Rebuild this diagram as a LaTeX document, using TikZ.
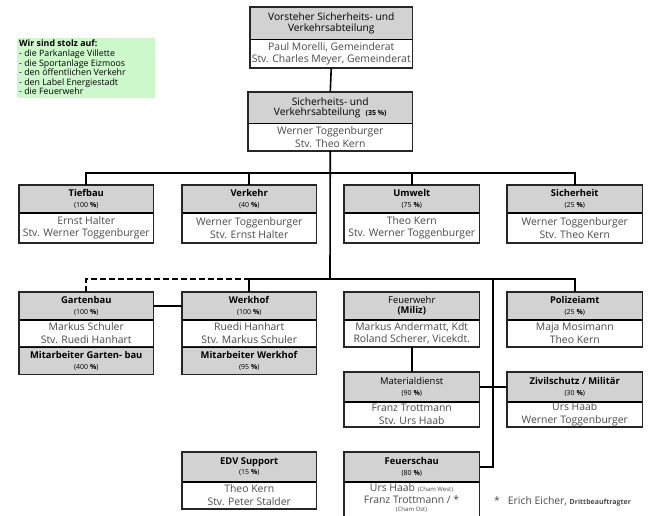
\documentclass[tikz,border=0pt]{standalone}
\usepackage{fontspec}
\setmainfont{Open Sans}
\definecolor{hdrgray}{HTML}{D2D2D2}
\definecolor{namegray}{HTML}{4A4A4A}
\definecolor{prideg}{HTML}{CCF8CC}
\tikzset{
  hdr/.style={draw=black, line width=0.5pt, fill=hdrgray, inner sep=0pt, align=center,
    font=\fontsize{9.4}{10.6}\selectfont},
  bdy/.style={draw=black, line width=0.5pt, fill=white, inner sep=0pt, align=center,
    text=namegray, font=\fontsize{10.4}{12.8}\selectfont},
  frame/.style={draw=black!85, line width=1.3pt},
  conn/.style={draw=black, line width=1.6pt},
}
\newcommand\pct[1]{{\fontsize{7}{7.5}\selectfont(#1 \textbf{\%})}}
\newcommand\bigh{\fontsize{10.2}{12}\selectfont}
% name, x, y(top), width, header h, body h, header text, body text
\newcommand\obox[8]{%
  \node[hdr, anchor=north west, minimum width=#4, minimum height=#5] (#1) at (#2,#3) {#7};
  \node[bdy, anchor=north, minimum width=#4, minimum height=#6] (#1b) at (#1.south) {#8};
  \draw[frame] (#1.north west) rectangle (#1b.south east);
}
\begin{document}
\begin{tikzpicture}[x=1pt, y=-1pt]
\useasboundingbox (0,0) rectangle (651,516);

% pride box
\node[fill=prideg, anchor=north west, minimum width=138, minimum height=60, inner sep=0pt] (pride) at (17,38) {};
\node[anchor=north west, align=left, inner sep=0pt, font=\fontsize{8.8}{9.6}\selectfont] (pridetext) at (19,40)
  {\textbf{Wir sind stolz auf:}\\
   - die Parkanlage Villette\\
   - die Sportanlage Eizmoos\\
   - den öffentlichen Verkehr\\
   - den Label Energiestadt\\
   - die Feuerwehr};

% top levels
\obox{vor}{250}{7}{162}{32}{28}{\bigh Vorsteher Sicherheits- und\\\bigh Verkehrsabteilung}{Paul Morelli, Gemeinderat\\Stv. Charles Meyer, Gemeinderat}
\obox{sva}{248}{92}{164}{31}{27}{\bigh Sicherheits- und\\\bigh Verkehrsabteilung \ {\fontsize{7}{7.5}\selectfont\textbf{(35 \%)}}}{Werner Toggenburger\\Stv. Theo Kern}

% row 1
\obox{tief}{19}{185}{134}{27}{30}{\textbf{Tiefbau}\\\pct{100}}{Ernst Halter\\Stv. Werner Toggenburger}
\obox{verk}{182}{185}{134}{27}{30}{\textbf{Verkehr}\\\pct{40}}{Werner Toggenburger\\Stv. Ernst Halter}
\obox{umw}{344}{185}{135}{27}{30}{\textbf{Umwelt}\\\pct{75}}{Theo Kern\\Stv. Werner Toggenburger}
\obox{sich}{507}{185}{135}{27}{30}{\textbf{Sicherheit}\\\pct{25}}{Werner Toggenburger\\Stv. Theo Kern}

% row 2
\obox{gart}{19}{292}{134}{27}{27}{\textbf{Gartenbau}\\\pct{100}}{Markus Schuler\\Stv. Ruedi Hanhart}
\node[hdr, anchor=north, minimum width=134, minimum height=27] (gartc) at (gartb.south) {\textbf{Mitarbeiter Garten- bau}\\\pct{400}};
\draw[frame] (gart.north west) rectangle (gartc.south east);
\obox{werk}{182}{292}{134}{27}{27}{\textbf{Werkhof}\\\pct{100}}{Ruedi Hanhart\\Stv. Markus Schuler}
\node[hdr, anchor=north, minimum width=134, minimum height=27] (werkc) at (werkb.south) {\textbf{Mitarbeiter Werkhof}\\\pct{95}};
\draw[frame] (werk.north west) rectangle (werkc.south east);
\obox{feu}{344}{292}{135}{27}{27}{Feuerwehr\\\textbf{(Miliz)}}{Markus Andermatt, Kdt\\Roland Scherer, Vicekdt.}
\obox{pol}{507}{292}{135}{27}{27}{\textbf{Polizeiamt}\\\pct{25}}{Maja Mosimann\\Theo Kern}

% row 3
\obox{mat}{344}{372}{135}{29}{25}{Materialdienst\\\pct{90}}{Franz Trottmann\\Stv. Urs Haab}
\obox{ziv}{507}{372}{135}{29}{25}{\textbf{Zivilschutz / Militär}\\\pct{30}}{Urs Haab\\Werner Toggenburger}

% row 4
\obox{edv}{182}{452}{134}{29}{27}{\textbf{EDV Support}\\\pct{15}}{Theo Kern\\Stv. Peter Stalder}
\obox{fsch}{344}{452}{135}{29}{42}{\textbf{Feuerschau}\\\pct{80}}{}
\node[anchor=north, inner sep=0pt, align=center, text=namegray, font=\fontsize{10.4}{12.3}\selectfont] (fschtext) at (411.5,483.5)
  {Urs Haab {\fontsize{6}{6.5}\selectfont(Cham West)}\\Franz Trottmann / *\\[-4.5pt]{\fontsize{6}{6.5}\selectfont(Cham Ost)}};

% footnote
\node[anchor=base west, inner sep=0pt, font=\fontsize{10.4}{11}\selectfont, text=namegray] (note) at (494,504)
  {*\hspace{8pt}Erich Eicher, {\fontsize{7}{7.5}\selectfont\textbf{Drittbeauftragter}}};

% connectors
\coordinate (j1) at (330,173);
\coordinate (j2) at (330,279);
\coordinate (j3) at (493,279);
\draw[conn] (vorb.south) -- (sva.north);
\draw[conn] (svab.south) -- (j2);
\draw[conn] (tief.north) |- (j1) -| (sich.north);
\draw[conn] (verk.north) -- (verk.north |- j1);
\draw[conn] (umw.north) -- (umw.north |- j1);
\draw[conn] (werk.north) |- (j2) -| (pol.north);
\draw[conn, dash pattern=on 6pt off 3pt] (gart.north) |- (werk.north |- j2);
\draw[conn] (j3) |- (fsch.east);
\draw[conn] (gart.east) -- (werk.west);
\draw[conn] (feub.south) -- (mat.north);
\draw[conn] (mat.east) -- (ziv.west);
\end{tikzpicture}
\end{document}
